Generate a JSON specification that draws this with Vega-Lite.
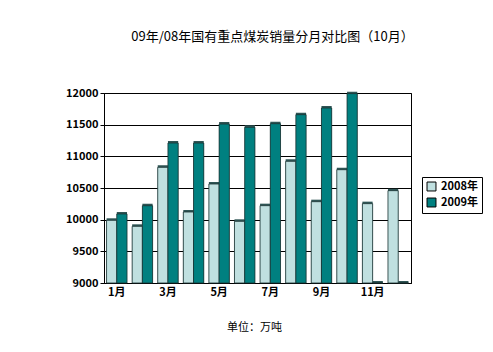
{
  "$schema": "https://vega.github.io/schema/vega-lite/v6.json",
  "width": 307,
  "height": 190,
  "autosize": "none",
  "padding": {"left": 104, "top": 93, "right": 82, "bottom": 69},
  "background": "white",
  "title": {
    "text": "09年/08年国有重点煤炭销量分月对比图（10月）",
    "font": "Noto Sans CJK SC",
    "fontSize": 13,
    "fontWeight": "normal",
    "color": "black",
    "offset": 43,
    "dx": 15
  },
  "data": {
    "values": [
      {"month": "1月", "year": "2008年", "sales": 9990},
      {"month": "1月", "year": "2009年", "sales": 10090},
      {"month": "2月", "year": "2008年", "sales": 9895},
      {"month": "2月", "year": "2009年", "sales": 10220},
      {"month": "3月", "year": "2008年", "sales": 10826},
      {"month": "3月", "year": "2009年", "sales": 11210},
      {"month": "4月", "year": "2008年", "sales": 10121},
      {"month": "4月", "year": "2009年", "sales": 11210},
      {"month": "5月", "year": "2008年", "sales": 10563},
      {"month": "5月", "year": "2009年", "sales": 11510},
      {"month": "6月", "year": "2008年", "sales": 9974},
      {"month": "6月", "year": "2009年", "sales": 11458},
      {"month": "7月", "year": "2008年", "sales": 10221},
      {"month": "7月", "year": "2009年", "sales": 11515},
      {"month": "8月", "year": "2008年", "sales": 10921},
      {"month": "8月", "year": "2009年", "sales": 11658},
      {"month": "9月", "year": "2008年", "sales": 10284},
      {"month": "9月", "year": "2009年", "sales": 11763},
      {"month": "10月", "year": "2008年", "sales": 10789},
      {"month": "10月", "year": "2009年", "sales": 11990},
      {"month": "11月", "year": "2008年", "sales": 10253},
      {"month": "11月", "year": "2009年", "sales": 9000},
      {"month": "12月", "year": "2008年", "sales": 10458},
      {"month": "12月", "year": "2009年", "sales": 9000}
    ]
  },
  "encoding": {
    "x": {
      "field": "month",
      "type": "nominal",
      "sort": ["1月","2月","3月","4月","5月","6月","7月","8月","9月","10月","11月","12月"],
      "scale": {"paddingInner": 0.2, "paddingOuter": 0.1},
      "axis": {
        "values": ["1月","3月","5月","7月","9月","11月"],
        "labelAngle": 0,
        "labelFont": "Noto Sans CJK SC",
        "labelFontSize": 11,
        "labelFontWeight": "bold",
        "labelColor": "black",
        "labelPadding": 3,
        "ticks": false,
        "domainColor": "black",
        "title": "单位：万吨",
        "titleFont": "Noto Sans CJK SC",
        "titleFontSize": 11,
        "titleFontWeight": "normal",
        "titleColor": "black",
        "titlePadding": 24,
        "titleX": 150
      }
    },
    "xOffset": {"field": "year", "type": "nominal", "scale": {"paddingInner": 0}},
    "y": {
      "field": "sales",
      "type": "quantitative",
      "scale": {"domain": [9000, 12000], "zero": false, "nice": false},
      "axis": {
        "values": [9000, 9500, 10000, 10500, 11000, 11500, 12000],
        "format": "d",
        "labelFont": "Noto Sans CJK SC",
        "labelFontSize": 11,
        "labelFontWeight": "bold",
        "labelColor": "black",
        "gridColor": "black",
        "gridOpacity": 1,
        "gridWidth": 1,
        "domainColor": "black",
        "tickColor": "black",
        "tickSize": 4,
        "title": null
      }
    },
    "y2": {"datum": 9000}
  },
  "layer": [
    {
      "mark": {"type": "bar", "xOffset": 2, "yOffset": -2, "color": "#2f5555"}
    },
    {
      "mark": {"type": "bar", "stroke": "#1a3333", "strokeWidth": 0.8},
      "encoding": {
        "fill": {
          "field": "year",
          "type": "nominal",
          "scale": {"domain": ["2008年", "2009年"], "range": ["#c0e0e0", "#008080"]},
          "legend": {
            "title": null,
            "orient": "none",
            "legendX": 318,
            "legendY": 84,
            "symbolType": "square",
            "symbolSize": 80,
            "symbolStrokeColor": "black",
            "symbolStrokeWidth": 1,
            "labelFont": "Noto Sans CJK SC",
            "labelFontSize": 11,
            "labelFontWeight": "bold",
            "labelColor": "black",
            "rowPadding": 3,
            "padding": 4,
            "strokeColor": "black",
            "fillColor": "white"
          }
        }
      }
    }
  ],
  "config": {
    "view": {"stroke": "black", "strokeWidth": 1},
    "axis": {"gridColor": "black"}
  }
}
